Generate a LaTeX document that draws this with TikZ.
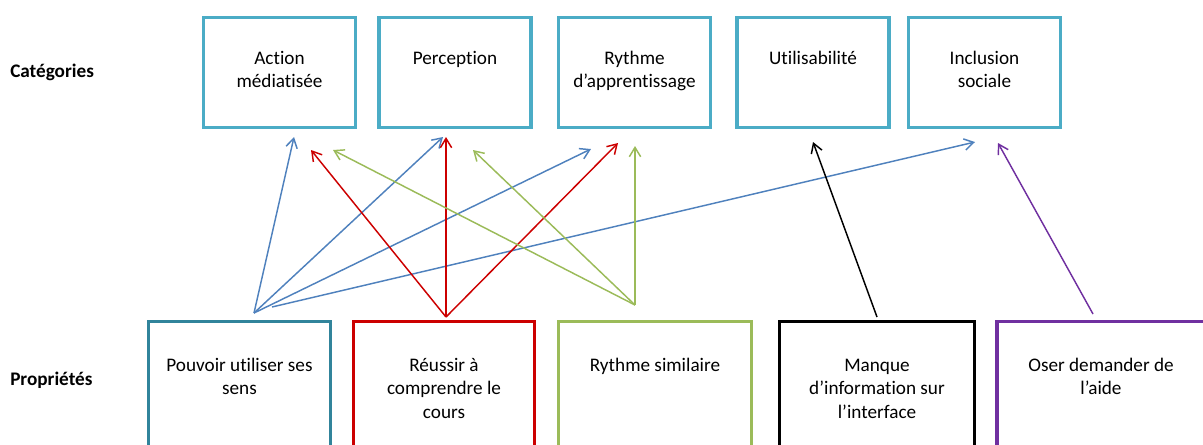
\documentclass[tikz,border=0pt]{standalone}
\usepackage{fontspec}
\setmainfont{Carlito}[Ligatures=NoCommon,RawFeature=-liga]
\usetikzlibrary{arrows.meta}
\definecolor{catc}{RGB}{75,172,198}
\definecolor{tealc}{RGB}{49,132,155}
\definecolor{bluec}{RGB}{79,129,189}
\definecolor{redc}{RGB}{204,0,0}
\definecolor{greenc}{RGB}{155,187,89}
\definecolor{purplec}{RGB}{112,48,160}
\tikzset{
  catbox/.style={draw=catc, line width=2.4pt, minimum width=114pt, minimum height=82.5pt, inner sep=0pt},
  propbox/.style={line width=2.4pt, minimum height=111.4pt, inner sep=0pt},
  lbl/.style={font=\fontsize{14.4}{17.6}\selectfont, align=center, anchor=north, inner sep=0pt},
  side/.style={font=\fontsize{14.4}{17.6}\selectfont\bfseries, anchor=base west, inner sep=0pt},
  arr/.style={line width=1.1pt, -{Straight Barb[length=7pt,width=8.5pt,line width=1.1pt]}}
}
\begin{document}
\begin{tikzpicture}[x=0.75pt,y=-0.75pt]
\useasboundingbox (0,0) rectangle (1203,444);
\clip (0,0) rectangle (1203,444);
% side labels
\node[side] (lc) at (10,77) {Catégories};
\node[side] (lp) at (10,385) {Propriétés};
% category boxes
\node[catbox] (c1) at (279.5,72.5) {};
\node[catbox] (c2) at (455,72.5) {};
\node[catbox] (c3) at (634.5,72.5) {};
\node[catbox] (c4) at (813,72.5) {};
\node[catbox] (c5) at (984.5,72.5) {};
\node[lbl] (t1) at (279.5,47.6) {\strut Action\\médiatisée};
\node[lbl] (t2) at (455,47.6) {\strut Perception};
\node[lbl] (t3) at (634.5,47.6) {\strut Rythme\\d’apprentissage};
\node[lbl] (t4) at (813,47.6) {\strut Utilisabilité};
\node[lbl] (t5) at (984.5,47.6) {\strut Inclusion\\sociale};
% property boxes
\node[propbox, draw=tealc, minimum width=136.5pt] (p1) at (239.5,395.75) {};
\node[propbox, draw=redc, minimum width=135.75pt] (p2) at (444,395.75) {};
\node[propbox, draw=greenc, minimum width=144.75pt] (p3) at (655,395.75) {};
\node[propbox, draw=black, minimum width=146.25pt] (p4) at (877,395.75) {};
\node[propbox, draw=purplec, minimum width=162pt] (p5) at (1105,395.75) {};
\node[lbl] (u1) at (239.5,354.6) {\strut Pouvoir utiliser ses\\sens};
\node[lbl] (u2) at (444,354.6) {\strut Réussir à\\comprendre le\\cours};
\node[lbl] (u3) at (655,354.6) {\strut Rythme similaire};
\node[lbl] (u4) at (877,354.6) {\strut Manque\\d’information sur\\l’interface};
\node[lbl] (u5) at (1101,354.6) {\strut Oser demander de\\l’aide};
% arrow origins
\coordinate (sP) at (254,313);
\coordinate (sP2) at (272,307);
\coordinate (sR) at (446,317);
\coordinate (sG) at (635,305);
\coordinate (sM) at (877,317);
\coordinate (sO) at (1093,314);
% arrow tips
\coordinate (tA1) at (294,137);
\coordinate (tB1) at (443,137);
\coordinate (tC1) at (591,149);
\coordinate (tE1) at (975,142);
\coordinate (tA2) at (311,150);
\coordinate (tB2) at (446,137);
\coordinate (tC2) at (618,143);
\coordinate (tA3) at (333,150);
\coordinate (tB3) at (473,150);
\coordinate (tC3) at (635,146);
\coordinate (tD4) at (813,142);
\coordinate (tE5) at (998,143);
% arrows
\draw[arr, bluec] (sP) -- (tA1);
\draw[arr, bluec] (sP) -- (tB1);
\draw[arr, bluec] (sP) -- (tC1);
\draw[arr, bluec] (sP2) -- (tE1);
\draw[arr, redc] (sR) -- (tA2);
\draw[arr, redc] (sR) -- (tB2);
\draw[arr, redc] (sR) -- (tC2);
\draw[arr, greenc] (sG) -- (tA3);
\draw[arr, greenc] (sG) -- (tB3);
\draw[arr, greenc] (sG) -- (tC3);
\draw[arr, black] (sM) -- (tD4);
\draw[arr, purplec] (sO) -- (tE5);
\end{tikzpicture}
\end{document}
